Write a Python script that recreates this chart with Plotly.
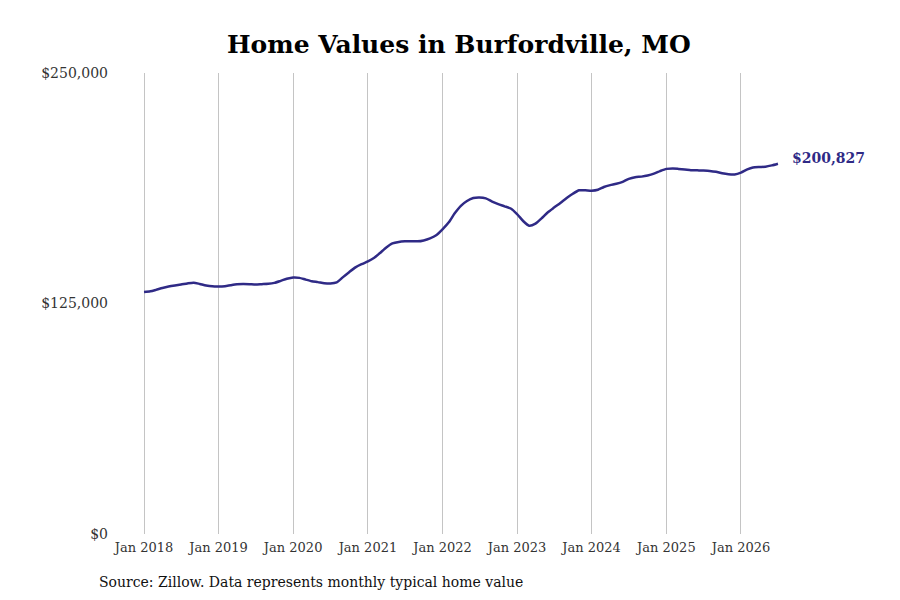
import pandas as pd
import plotly.graph_objects as go

# monthly typical home value, Jan 2018 .. Jul 2026
dates = pd.date_range("2018-01-01", periods=103, freq="MS")
values = [
    131200, 131600, 132400, 133400, 134200, 134800, 135300, 135900, 136300, 135600, 134800, 134300,
    134200, 134400, 134900, 135400, 135600, 135500, 135300, 135500, 135700, 136200, 137300, 138400,
    139100, 138900, 138000, 137100, 136600, 136000, 135800, 136400, 139300, 142000, 144600, 146300,
    147800, 149800, 152400, 155400, 157600, 158400, 158700, 158800, 158700, 159200, 160300, 162000,
    165200, 169000, 173800, 178000, 180600, 182200, 182500, 182000, 180300, 178900, 177700, 176500,
    173500, 169600, 167200, 168300, 171200, 174500, 177000, 179500, 182200, 184500, 186400, 186400,
    186200, 186700, 188200, 189200, 189900, 191000, 192600, 193500, 193800, 194400, 195400, 196800,
    198000, 198200, 198000, 197700, 197300, 197200, 197100, 196900, 196400, 195600, 195100, 195000,
    196000, 197700, 198700, 199000, 199200, 199900, 200827,
]
y_ticks = [0, 125000, 250000]
y_labels = ["$0", "$125,000", "$250,000"]
x_ticks = pd.date_range("2018-01-01", "2026-01-01", freq="YS")
x_labels = [d.strftime("Jan %Y") for d in x_ticks]

line_color = "#2f2a86"
serif = "DejaVu Serif"

fig = go.Figure()
fig.add_trace(go.Scatter(
    x=dates, y=values,
    mode="lines",
    line=dict(color=line_color, width=2.5, shape="spline", smoothing=0.6),
    hoverinfo="skip",
    showlegend=False,
))

fig.add_annotation(
    x=dates[-1], y=values[-1],
    text=f"<b>${values[-1]:,}</b>",
    showarrow=False,
    xanchor="left", yanchor="middle",
    xshift=12, yshift=6,
    font=dict(family=serif, size=14, color=line_color),
)

fig.add_annotation(
    xref="paper", yref="paper",
    x=-0.0264, y=-0.104,
    text="Source: Zillow. Data represents monthly typical home value",
    showarrow=False,
    xanchor="left", yanchor="middle",
    font=dict(family=serif, size=14, color="#111111"),
)

# the page adds an 8px body margin, so the figure is a bit smaller than the window
fig.update_layout(
    width=884, height=584,
    margin=dict(l=107, r=92, t=65, b=58),
    paper_bgcolor="white",
    plot_bgcolor="white",
    title=dict(
        text="<b>Home Values in Burfordville, MO</b>",
        x=0.510, xanchor="center",
        y=0.938, yanchor="middle",
        font=dict(family=serif, size=25, color="#000000"),
    ),
    xaxis=dict(
        range=["2017-08-12", "2026-10-17"],
        tickvals=x_ticks, ticktext=x_labels,
        showgrid=True, gridcolor="#c4c4c4", gridwidth=1,
        zeroline=False, showline=False,
        ticks="", ticklabelstandoff=4,
        tickfont=dict(family=serif, size=13, color="#333333"),
    ),
    yaxis=dict(
        range=[0, 250000],
        tickvals=y_ticks, ticktext=y_labels,
        showgrid=False, zeroline=False, showline=False,
        ticks="", ticklabelstandoff=6,
        tickfont=dict(family=serif, size=14, color="#333333"),
    ),
)

fig.write_html("out.html")
